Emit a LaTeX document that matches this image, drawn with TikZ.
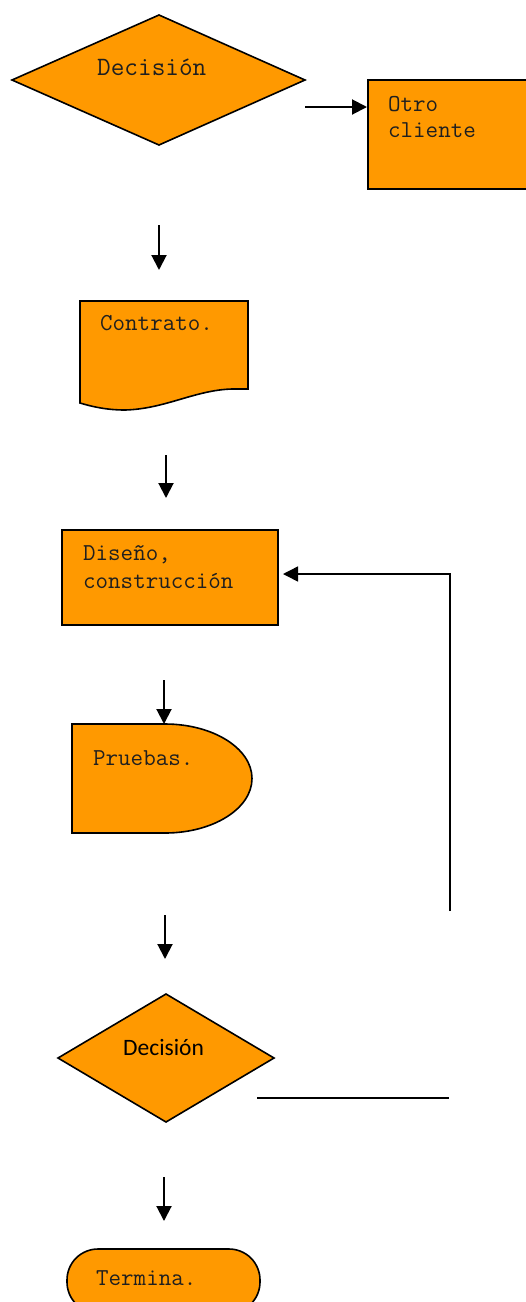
\documentclass[tikz,border=0pt]{standalone}
\usepackage{fontspec}
\newfontfamily\cour{Latin Modern Mono}
\newfontfamily\calib{Carlito}
\usetikzlibrary{arrows.meta}
\definecolor{fillorange}{RGB}{255,153,0}
\begin{document}
\begin{tikzpicture}[x=1pt,y=-1pt,
  shapebox/.style={draw=black, fill=fillorange, line width=1.6pt, line join=miter},
  arr/.style={line width=2pt, -{Triangle[length=15pt,width=15pt]}},
  fbline/.style={line width=1.5pt, -{Triangle[length=15pt,width=15pt]}},
  plainline/.style={line width=1.5pt},
  txt/.style={anchor=base west, inner sep=0pt, text=black!88, font=\cour\fontsize{24.3}{24.3}\selectfont},
  bigtxt/.style={txt, font=\cour\fontsize{26.5}{26.5}\selectfont},
  sanstxt/.style={anchor=base west, inner sep=0pt, text=black, font=\calib\fontsize{23.5}{23.5}\selectfont}]
\useasboundingbox (0,0) rectangle (526,1302);
\begin{scope}
\clip (0,0) rectangle (526,1302);
% shapes
\draw[shapebox] (12,80) -- (159,15) -- (305,80) -- (159,145) -- cycle;
\draw[shapebox] (368,80) rectangle (540,189);
\draw[shapebox] (80,301) -- (248,301) -- (248,389) -- (232,389)
   .. controls (195,390) and (165,409) .. (125,410)
   .. controls (105,410) and (90,406) .. (80,403) -- cycle;
\draw[shapebox] (62,530) rectangle (278,625);
\draw[shapebox] (72,724) -- (165,724) arc[start angle=90, end angle=-90, x radius=87pt, y radius=54.5pt] -- (72,833) -- cycle;
\draw[shapebox] (58,1058) -- (166,994) -- (274,1058) -- (166,1122) -- cycle;
\draw[shapebox, rounded corners=31pt] (67,1249) rectangle (260,1313);
\end{scope}
% texts
\node[bigtxt] (t1) at (97,75) {Decisión};
\node[txt] (t2) at (388,111) {Otro};
\node[txt] (t3) at (388,137) {cliente};
\node[txt] (t4) at (100,330) {Contrato.};
\node[txt] (t5) at (83,560) {Diseño,};
\node[txt] (t6) at (83,588) {construcción};
\node[txt] (t7) at (93,765) {Pruebas.};
\node[sanstxt] (t8) at (123,1055) {Decisión};
\node[txt] (t9) at (96,1285) {Termina.};
% connector end points
\coordinate (a1s) at (305,107); \coordinate (a1e) at (367,107);
\coordinate (a2s) at (159,225); \coordinate (a2e) at (159,270);
\coordinate (a3s) at (166,455); \coordinate (a3e) at (166,498);
\coordinate (a4s) at (164,680); \coordinate (a4e) at (164,724);
\coordinate (a5s) at (165,915); \coordinate (a5e) at (165,959);
\coordinate (a6s) at (164,1177); \coordinate (a6e) at (164,1221);
\coordinate (fbs) at (450,911); \coordinate (fbe) at (283,574);
\coordinate (ls) at (257,1098); \coordinate (le) at (449,1098);
% connectors
\draw[arr] (a1s) -- (a1e);
\draw[arr] (a2s) -- (a2e);
\draw[arr] (a3s) -- (a3e);
\draw[arr] (a4s) -- (a4e);
\draw[arr] (a5s) -- (a5e);
\draw[arr] (a6s) -- (a6e);
\draw[fbline] (fbs) |- (fbe);
\draw[plainline] (ls) -- (le);
\end{tikzpicture}
\end{document}
